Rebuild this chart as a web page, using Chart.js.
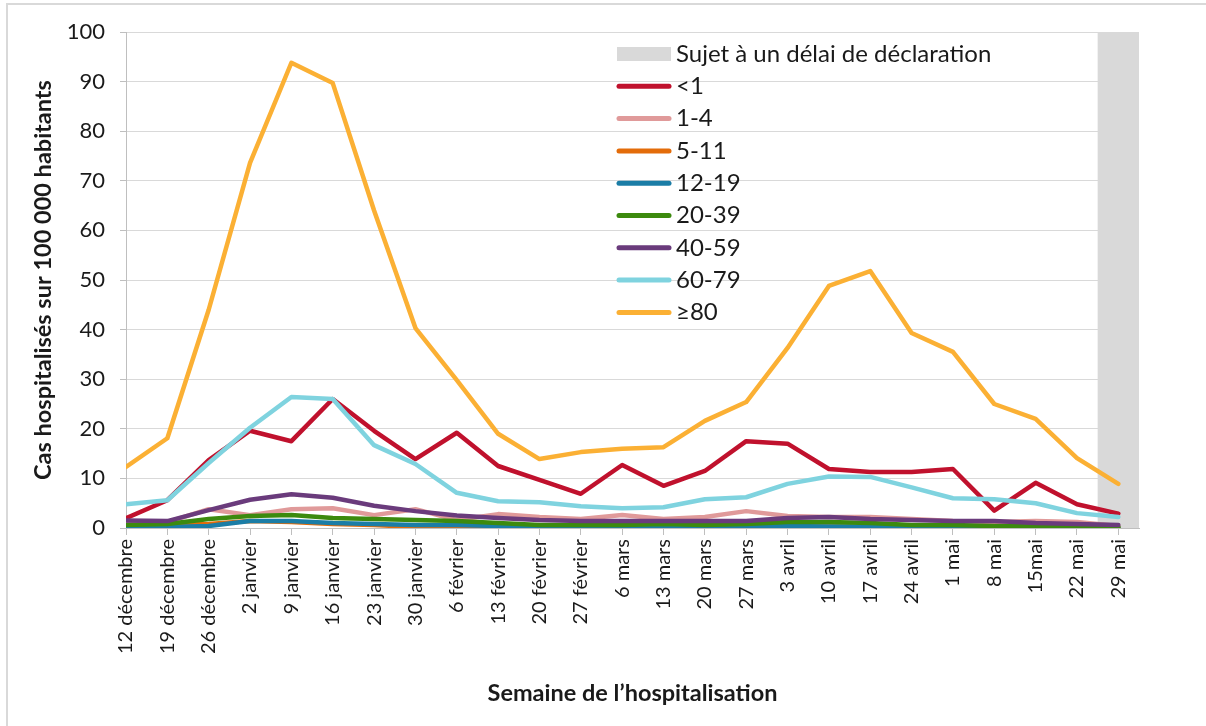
<!DOCTYPE html>
<html><head><meta charset="utf-8">
<script src="https://cdn.jsdelivr.net/npm/chart.js@4.4.1/dist/chart.umd.min.js"></script>
<style>html,body{margin:0;padding:0;background:#fff}canvas{display:block}</style>
</head><body>
<canvas id="c" width="1206" height="726"></canvas>
<script>
// ---- Data ----
const weeks = ['12 décembre','19 décembre','26 décembre','2 janvier','9 janvier','16 janvier','23 janvier','30 janvier',
  '6 février','13 février','20 février','27 février','6 mars','13 mars','20 mars','27 mars','3 avril','10 avril',
  '17 avril','24 avril','1 mai','8 mai','15mai','22 mai','29 mai'];
const ageGroups = ['<1','1-4','5-11','12-19','20-39','40-59','60-79','≥80'];
const groupColors = ['#C0112D','#E09A9A','#E36C0A','#1B7DA6','#3C8A0E','#6A3B7C','#7FD3DF','#FBB034'];
const age_lt1   = [2.0,5.6,13.7,19.6,17.5,26.0,19.6,13.9,19.2,12.5,9.7,6.9,12.7,8.5,11.5,17.5,17.0,11.9,11.3,11.3,11.9,3.5,9.1,4.8,2.9];
const age_1_4   = [1.0,1.2,3.8,2.6,3.8,4.0,2.6,3.8,1.6,2.8,2.2,1.8,2.6,1.8,2.2,3.4,2.4,2.2,2.2,1.8,1.4,1.2,1.4,1.2,0.4];
const age_5_11  = [0.4,0.6,0.8,1.4,1.2,0.8,0.6,0.2,0.2,0.2,0.1,0.1,0.2,0.2,0.2,0.3,0.3,0.3,0.2,0.2,0.2,0.2,0.1,0.1,0.1];
const age_12_19 = [0.2,0.2,0.4,1.4,1.4,1.0,0.8,0.6,0.6,0.4,0.1,0.1,0.2,0.3,0.2,0.2,0.4,0.3,0.3,0.2,0.2,0.2,0.1,0.1,0.1];
const age_20_39 = [0.6,0.8,1.8,2.4,2.6,2.0,1.8,1.6,1.4,1.0,0.6,0.6,0.6,0.8,0.6,0.8,1.2,1.2,1.0,0.6,0.6,0.4,0.4,0.4,0.2];
const age_40_59 = [1.5,1.4,3.6,5.7,6.8,6.1,4.5,3.4,2.5,2.0,1.6,1.4,1.4,1.4,1.4,1.4,2.0,2.2,1.8,1.6,1.4,1.4,1.0,0.8,0.6];
const age_60_79 = [4.8,5.6,13.1,20.2,26.4,26.0,16.7,12.9,7.1,5.4,5.2,4.4,4.0,4.2,5.8,6.2,8.9,10.4,10.3,8.2,6.0,5.8,5.0,3.0,2.2];
const age_80p   = [12.3,18.1,44.0,73.6,93.8,89.7,64.0,40.3,29.8,19.0,13.9,15.3,16.0,16.3,21.6,25.4,36.3,48.8,51.8,39.3,35.5,25.0,22.0,14.1,8.9];
const seriesValues = [age_lt1,age_1_4,age_5_11,age_12_19,age_20_39,age_40_59,age_60_79,age_80p];
const delayLabel = 'Sujet à un délai de déclaration';
const delayWeeks = ['29 mai'];
const yTickValues = [0,10,20,30,40,50,60,70,80,90,100];
const yTitle = 'Cas hospitalisés sur 100 000 habitants';
const xTitle = 'Semaine de l’hospitalisation';

const FONT = 'Lato, "Open Sans", sans-serif';
const TXT = '#1a1a1a';

const datasets = seriesValues.map((vals, i) => ({
  label: ageGroups[i],
  data: vals.map((v, j) => ({x: j, y: v})),
  borderColor: groupColors[i],
  backgroundColor: groupColors[i],
  borderWidth: 4.5,
  pointRadius: 0,
  tension: 0,
  borderJoinStyle: 'round',
  borderCapStyle: 'round',
  order: seriesValues.length - i
}));

const delayBand = {
  id: 'delayBand',
  beforeDatasetsDraw(chart) {
    const {ctx, chartArea, scales: {x}} = chart;
    ctx.save();
    ctx.fillStyle = '#D9D9D9';
    delayWeeks.forEach(w => {
      const idx = weeks.indexOf(w);
      const x0 = x.getPixelForValue(idx - 0.5);
      const x1 = x.getPixelForValue(idx + 0.5);
      ctx.fillRect(x0, chartArea.top, x1 - x0, chartArea.bottom - chartArea.top);
    });
    ctx.restore();
  }
};

const frame = {
  id: 'frame',
  beforeDraw(chart) {
    const ctx = chart.ctx;
    ctx.save();
    ctx.fillStyle = '#fff';
    ctx.fillRect(0, 0, chart.width, chart.height);
    ctx.strokeStyle = '#D9D9D9';
    ctx.lineWidth = 2;
    ctx.beginPath();
    ctx.moveTo(7, 726); ctx.lineTo(7, 4); ctx.lineTo(1206, 4);
    ctx.stroke();
    ctx.restore();
  }
};

const customLegend = {
  id: 'customLegend',
  afterDatasetsDraw(chart) {
    const ctx = chart.ctx;
    const sx0 = 617, sx1 = 671, tx = 676, y0 = 54, dy = 32.3;
    ctx.save();
    ctx.font = '24px ' + FONT;
    ctx.textBaseline = 'middle';
    ctx.fillStyle = '#D9D9D9';
    ctx.fillRect(sx0, y0 - 7, sx1 - sx0, 14);
    ctx.fillStyle = TXT;
    ctx.fillText(delayLabel, tx, y0);
    ageGroups.forEach((g, i) => {
      const y = y0 + dy * (i + 1);
      ctx.strokeStyle = groupColors[i];
      ctx.lineWidth = 5;
      ctx.lineCap = 'round';
      ctx.beginPath(); ctx.moveTo(sx0 + 2, y); ctx.lineTo(sx1 - 2, y); ctx.stroke();
      ctx.fillStyle = TXT;
      ctx.fillText(g, tx, y);
    });
    ctx.restore();
  }
};

new Chart(document.getElementById('c'), {
  type: 'line',
  data: { datasets },
  options: {
    responsive: false,
    animation: false,
    layout: { padding: { left: 0, top: 32, right: 67, bottom: 0 } },
    plugins: { legend: { display: false }, tooltip: { enabled: false } },
    scales: {
      x: {
        type: 'linear',
        min: 0,
        max: weeks.length - 0.5,
        afterFit(s) { s.height = 726 - 528; },
        grid: { drawOnChartArea: false, tickLength: 7, color: '#BFBFBF' },
        border: { color: '#BFBFBF', width: 1 },
        ticks: {
          stepSize: 1,
          includeBounds: false,
          autoSkip: false,
          minRotation: 90,
          maxRotation: 90,
          padding: 4,
          color: TXT,
          font: { family: FONT, size: 20 },
          callback: (v) => (Number.isInteger(v) && weeks[v] !== undefined) ? weeks[v] : ''
        },
        title: { display: true, text: xTitle, color: TXT, font: { family: FONT, size: 23.5, weight: 'bold' }, padding: { top: 0, bottom: 18 } }
      },
      y: {
        min: yTickValues[0],
        max: yTickValues[yTickValues.length - 1],
        afterFit(s) { s.width = 126; },
        afterBuildTicks(s) { s.ticks = yTickValues.map(v => ({ value: v })); },
        grid: { color: '#D9D9D9', tickLength: 6, tickColor: '#BFBFBF' },
        border: { color: '#BFBFBF', width: 1 },
        ticks: { padding: 15, color: TXT, font: { family: FONT, size: 22 } },
        title: { display: true, text: yTitle, color: TXT, font: { family: FONT, size: 23.5, weight: 'bold' }, padding: { top: 29, bottom: 0 } }
      }
    }
  },
  plugins: [frame, delayBand, customLegend]
});
</script>
</body></html>
